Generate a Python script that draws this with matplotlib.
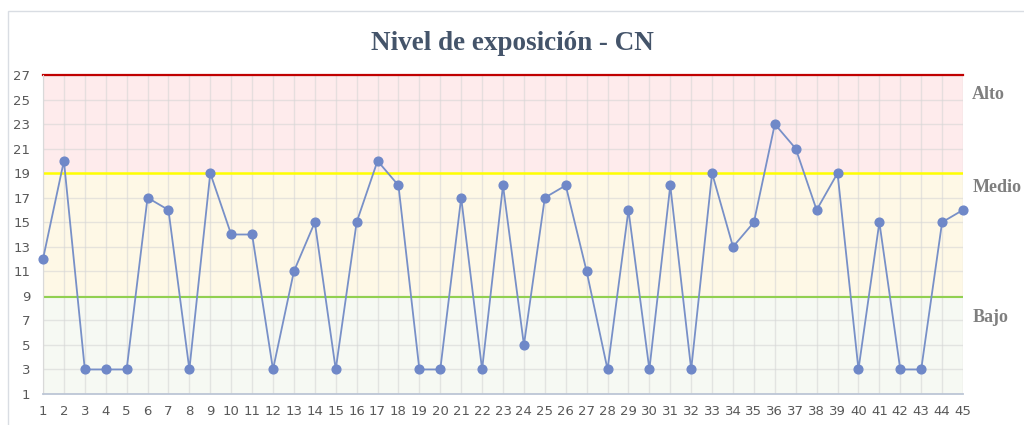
import numpy as np
import matplotlib.pyplot as plt
from matplotlib.patches import Rectangle

# Datos del gráfico
casos = list(range(1, 46))
nivel = [12, 20, 3, 3, 3, 17, 16, 3, 19, 14, 14, 3, 11, 15, 3, 15, 20, 18, 3, 3,
         17, 3, 18, 5, 17, 18, 11, 3, 16, 3, 18, 3, 19, 13, 15, 23, 21, 16, 19, 3,
         15, 3, 3, 15, 16]
y_ticks = list(range(1, 28, 2))

# Límites de las zonas
lim_bajo = 9
lim_medio = 19
lim_alto = 27
etiquetas_zona = ["Bajo", "Medio", "Alto"]
pos_etiquetas = [7.2, 17.8, 25.4]

fig = plt.figure(figsize=(10.24, 4.25), dpi=100)
ax = fig.add_axes([43 / 1024, 1 - 394 / 425, 920 / 1024, 319 / 425])

# borde del gráfico
fig.patches.append(Rectangle((8 / 1024, -0.1), 1.1, 1 - 11 / 425 + 0.1,
                             transform=fig.transFigure, fill=False,
                             edgecolor="#d9dde3", linewidth=1))

# zonas de fondo
ax.axhspan(1, lim_bajo, color="#f6f9f3", zorder=0)
ax.axhspan(lim_bajo, lim_medio, color="#fef8e6", zorder=0)
ax.axhspan(lim_medio, lim_alto, color="#feebec", zorder=0)

# rejilla
for x in casos:
    ax.axvline(x, color="#d6d6d6", alpha=0.6, linewidth=1, zorder=1)
for y in y_ticks:
    ax.axhline(y, color="#d6d6d6", alpha=0.6, linewidth=1, zorder=1)

# líneas de límite
ax.axhline(lim_bajo - 0.1, color="#92d050", linewidth=1.5, zorder=2)
ax.axhline(lim_medio, color="#ffff00", linewidth=1.8, zorder=2)
ax.axhline(lim_alto, color="#c00000", linewidth=1.6, zorder=2, clip_on=False)

# serie
ax.plot(casos, nivel, color="#7890c8", linewidth=1.3, marker="o",
        markersize=6.3, markerfacecolor="#6f88c8", markeredgecolor="#6f88c8",
        zorder=4, clip_on=False)

ax.set_xlim(1, 45)
ax.set_ylim(1, 27)
ax.set_xticks(casos)
ax.set_yticks(y_ticks)
ax.tick_params(length=0, labelsize=9.5, labelcolor="#595959", pad=8)
ax.tick_params(axis="y", pad=9)

for side in ["top", "right"]:
    ax.spines[side].set_visible(False)
ax.spines["left"].set_color("#d9d9d9")
ax.spines["bottom"].set_color("#bcc6d6")
ax.spines["bottom"].set_linewidth(1.3)

for txt, yv in zip(etiquetas_zona, pos_etiquetas):
    ax.text(1.010, (yv - 1) / 26, txt, transform=ax.transAxes, ha="left",
            va="center", fontsize=13, fontweight="bold", color="#7f7f7f",
            family="Liberation Serif")

fig.text(0.5, 1 - 43 / 425, "Nivel de exposición - CN", ha="center",
         va="center", fontsize=19.5, fontweight="bold", color="#44546a",
         family="Liberation Serif")

fig.savefig("out.png", dpi=100)
